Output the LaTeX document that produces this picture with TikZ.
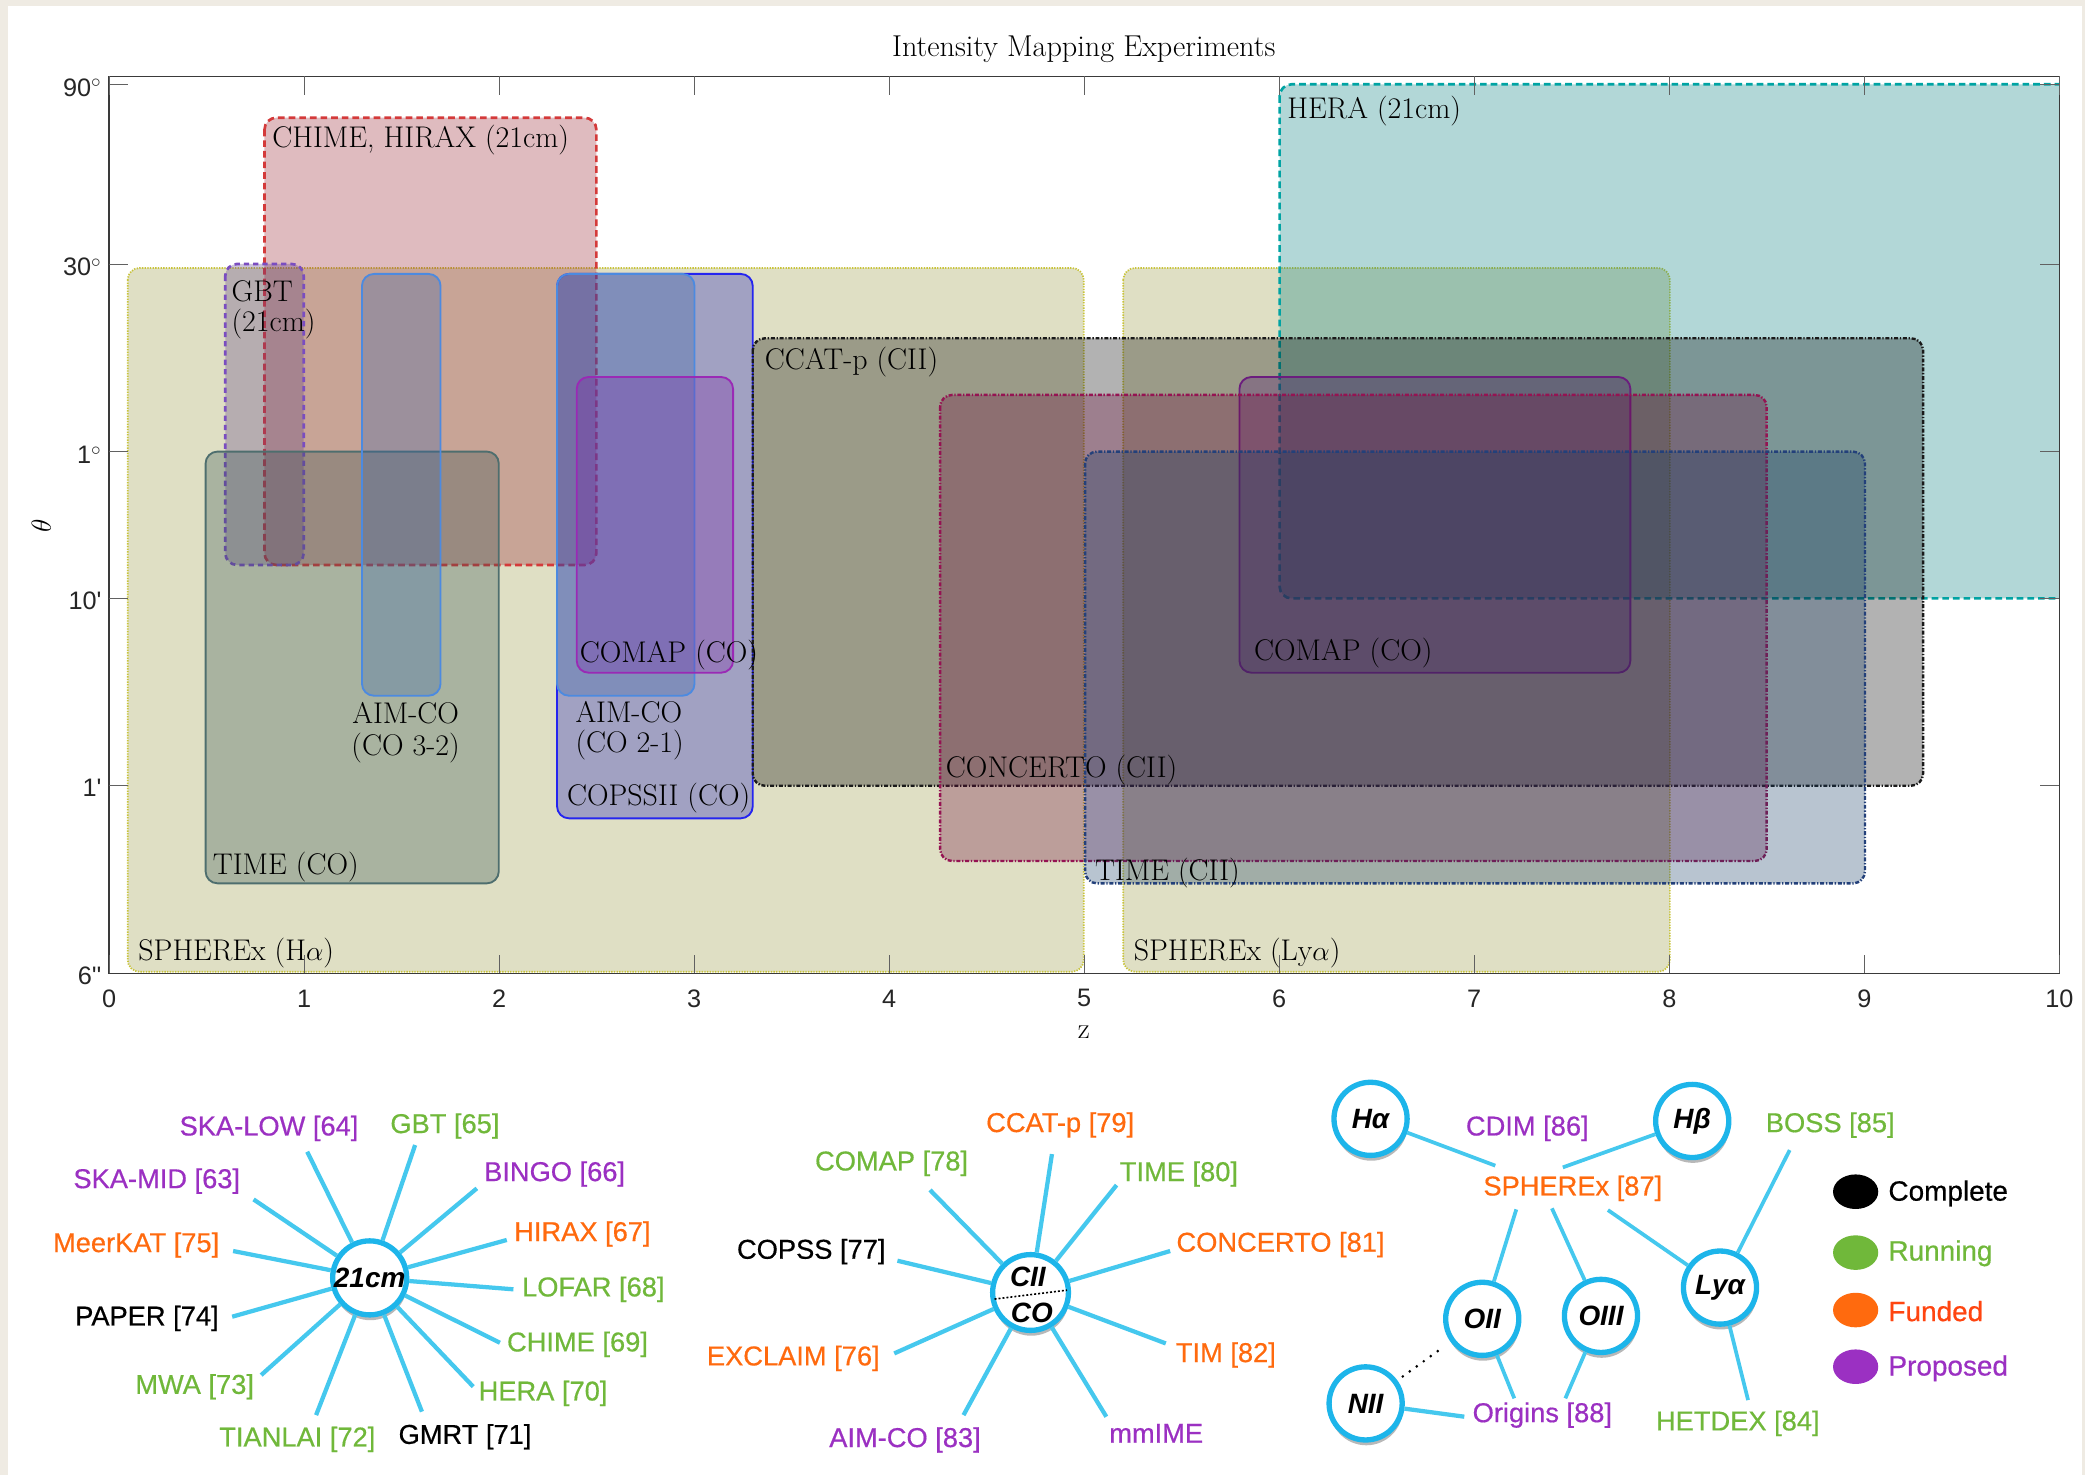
\documentclass[tikz,border=0pt]{standalone}
\usepackage{fontspec}
\newfontfamily\lsans{Liberation Sans}
\newfontfamily\lsansm{Liberation Sans}[FakeBold=0.5]
\usetikzlibrary{shadows,shapes.geometric}

\definecolor{cream}{HTML}{EFEBE3}
\definecolor{spokec}{HTML}{45C8EE}
\definecolor{ringc}{HTML}{1DB5EA}
\definecolor{cpurple}{HTML}{9B30C2}
\definecolor{cgreen}{HTML}{70B83A}
\definecolor{corange}{HTML}{FF6A0E}
\definecolor{cfunded}{HTML}{FF4510}
\definecolor{axisc}{HTML}{3A3A3A}
\definecolor{tickc}{HTML}{262626}
% plot fills
\definecolor{fsph}{RGB}{150,150,60}
\definecolor{fhera}{RGB}{0,125,125}
\definecolor{fchime}{RGB}{150,30,45}
\definecolor{fgbt}{RGB}{90,60,130}
\definecolor{ftime}{RGB}{47,79,79}
\definecolor{faim}{RGB}{55,100,170}
\definecolor{fcopss}{RGB}{20,20,190}
\definecolor{fcomap}{RGB}{125,40,170}
\definecolor{fccat}{RGB}{0,0,0}
\definecolor{fconc}{RGB}{110,10,60}
\definecolor{ftcii}{RGB}{20,60,100}
% plot edges
\definecolor{esph}{HTML}{C9C43A}
\definecolor{ehera}{HTML}{00A3A3}
\definecolor{echime}{HTML}{D43A3A}
\definecolor{egbt}{HTML}{7A4DC0}
\definecolor{etime}{HTML}{4E6E6E}
\definecolor{eaim}{HTML}{4C8AE0}
\definecolor{ecopss}{HTML}{2525F0}
\definecolor{ecomap}{HTML}{9A2AB5}
\definecolor{eccat}{HTML}{1A1A1A}
\definecolor{econc}{HTML}{951352}
\definecolor{etcii}{HTML}{23407A}

\newcommand\plotfont{\fontsize{22.5}{24}\selectfont}
\newcommand\tickfont{\lsans\fontsize{19}{20}\selectfont}
\newcommand\labfont{\lsansm\fontsize{20.5}{22}\selectfont}
\newcommand\hubfont{\lsans\bfseries\itshape\fontsize{21}{22}\selectfont}
\newcommand\legfont{\lsansm\fontsize{21}{22}\selectfont}

\tikzset{
  pbox/.style={rounded corners=9pt, fill opacity=0.3, draw opacity=1},
  dotline/.style={line width=1.3pt, dash pattern=on 1pt off 1pt},
  dashline/.style={line width=2pt, dash pattern=on 5pt off 3pt},
  dotdashline/.style={line width=1.8pt, dash pattern=on 3pt off 1.3pt on 1pt off 1.3pt},
  solidline/.style={line width=1.4pt},
  plab/.style={font=\plotfont, inner sep=0pt, anchor=west, text=black},
  plabc/.style={font=\plotfont, inner sep=0pt, text=black},
  axisline/.style={draw=axisc, line width=1pt},
  tickmark/.style={draw=axisc!80, line width=0.8pt},
  ticklab/.style={font=\tickfont, text=tickc, inner sep=0pt},
  hub/.style={circle, draw=ringc, line width=4pt, fill=white, minimum size=55pt,
    inner sep=0pt, font=\hubfont,
    drop shadow={shadow xshift=0.5pt, shadow yshift=-4pt, opacity=0.28, fill=black}},
  spoke/.style={draw=spokec, line width=3.2pt},
  link/.style={draw=spokec, line width=2.8pt},
  lab/.style={font=\labfont, inner sep=0pt},
  legdot/.style={ellipse, minimum width=34pt, minimum height=26pt, inner sep=0pt},
  legtxt/.style={font=\legfont, inner sep=0pt, anchor=west},
}

\begin{document}
\begin{tikzpicture}[x=1pt,y=-1pt]
\useasboundingbox (0,0) rectangle (1568,1109);
\fill[cream] (0,0) rectangle (1568,1109);
\fill[white] (6.3,4.5) rectangle (1565.5,1109);

% ---------------- plot boxes ----------------
\begin{scope}
\clip (82,57.5) rectangle (1548.7,732);
\draw[pbox, fill=fsph, draw=esph, dotline] (96,201.5) rectangle (815,730.8);
\draw[pbox, fill=fsph, draw=esph, dotline] (844.7,201.5) rectangle (1255.8,730.8);
\draw[pbox, fill=fhera, draw=ehera, dashline] (962.3,63.4) rectangle (1620,450);
\draw[pbox, fill=fchime, draw=echime, dashline] (198.9,88.5) rectangle (448.5,424.9);
\draw[pbox, fill=fgbt, draw=egbt, dashline, dash pattern=on 4pt off 3pt] (169.4,198.5) rectangle (228.4,424.9);
\draw[pbox, fill=ftime, draw=etime, solidline] (154.6,339.6) rectangle (375.1,664.3);
\draw[pbox, fill=faim, draw=eaim, solidline] (272.2,206) rectangle (331.3,523.2);
\draw[pbox, fill=fcopss, draw=ecopss, solidline] (418.9,206) rectangle (566.1,615.4);
\draw[pbox, fill=faim, draw=eaim, solidline] (418.9,206) rectangle (522.3,523.2);
\draw[pbox, fill=fcomap, draw=ecomap, solidline] (433.7,283.5) rectangle (551.3,505.9);
\draw[pbox, fill=fcomap, draw=ecomap, solidline] (932.1,283.5) rectangle (1226.1,505.9);
\draw[pbox, fill=fccat, draw=eccat, dotdashline] (566.1,254.4) rectangle (1446.2,590.9);
\draw[pbox, fill=fconc, draw=econc, dotdashline] (707,297) rectangle (1328.6,647.5);
\draw[pbox, fill=ftcii, draw=etcii, dotdashline] (816,339.6) rectangle (1402.5,664.3);
\end{scope}

% ---------------- plot labels ----------------
\node[plab] (lchime) at (204.7,105) {CHIME, HIRAX (21cm)};
\node[plab] (lgbt1) at (174,218.7) {GBT};
\node[plab] (lgbt2) at (174,244) {(21cm)};
\node[plab] (lhera) at (968,83.5) {HERA (21cm)};
\node[plab] (lccat) at (575,272) {CCAT-p (CII)};
\node[plab] (lcomap1) at (435.8,492.6) {COMAP (CO)};
\node[plab] (lcomap2) at (943,491.3) {COMAP (CO)};
\node[plabc] (laim1a) at (305,536.5) {AIM-CO};
\node[plabc] (laim1b) at (305,562.8) {(CO 3-2)};
\node[plab] (laim2a) at (432.6,535.2) {AIM-CO};
\node[plab] (laim2b) at (432.6,560.3) {(CO 2-1)};
\node[plab] (lcopss) at (426.3,600.4) {COPSSII (CO)};
\node[plab] (lconc) at (711.2,579.1) {CONCERTO (CII)};
\node[plab] (ltimeco) at (159.9,651.8) {TIME (CO)};
\node[plab] (ltimecii) at (823.3,656.8) {TIME (CII)};
\node[plab] (lsph1) at (103.9,717) {SPHEREx (H$\alpha$)};
\node[plab] (lsph2) at (852.5,717) {SPHEREx (Ly$\alpha$)};

% ---------------- axes ----------------
\draw[axisline] (82,57.5) rectangle (1548.7,732);
\foreach \i in {0,...,10} {
  \draw[tickmark] (82+146.67*\i,732) -- ++(0,-14);
  \draw[tickmark] (82+146.67*\i,57.5) -- ++(0,14);
  \node[ticklab] (xl\i) at (82+146.67*\i,750.8) {\i};
}
\foreach \yy in {63.2,198.6,339.6,450,590.9} {
  \draw[tickmark] (82,\yy) -- ++(14.5,0);
  \draw[tickmark] (1548.7,\yy) -- ++(-14.5,0);
}
\node[ticklab, anchor=east] (yl1) at (76.5,65.7) {90$^{\circ}$};
\node[ticklab, anchor=east] (yl2) at (76.5,201) {30$^{\circ}$};
\node[ticklab, anchor=east] (yl3) at (76.5,342) {1$^{\circ}$};
\node[ticklab, anchor=east] (yl4) at (76.5,451.5) {10\textquotesingle};
\node[ticklab, anchor=east] (yl5) at (76.5,592.5) {1\textquotesingle};
\node[ticklab, anchor=east] (yl6) at (76.5,733.5) {6\textquotesingle\textquotesingle};

\node[font=\fontsize{22.7}{24}\selectfont, inner sep=0pt] (title) at (815,37.4) {Intensity Mapping Experiments};
\node[font=\fontsize{22}{24}\selectfont, inner sep=0pt] (zlab) at (815,776) {z};
\node[font=\fontsize{21}{24}\selectfont, inner sep=0pt, rotate=90] (thlab) at (31,395.5) {$\theta$};

% ---------------- 21cm star ----------------
\node[hub] (h21) at (278,961) {21cm};
\coordinate (a1) at (231,866.1);
\coordinate (a2) at (312.2,861.1);
\coordinate (a3) at (358.6,893.7);
\coordinate (a4) at (381.1,932.5);
\coordinate (a5) at (386.1,969.6);
\coordinate (a6) at (376,1009.8);
\coordinate (a7) at (355.9,1042.8);
\coordinate (a8) at (317.3,1061.6);
\coordinate (a9) at (237.7,1064.2);
\coordinate (a10) at (196.4,1034.1);
\coordinate (a11) at (174.6,990.2);
\coordinate (a12) at (175.3,940.8);
\coordinate (a13) at (190.7,902);
\foreach \k in {1,...,13} { \draw[spoke] (h21) -- (a\k); }
\node[lab, text=cpurple] (t1) at (202.3,848.6) {SKA-LOW [64]};
\node[lab, text=cgreen] (t2) at (334.6,846.8) {GBT [65]};
\node[lab, text=cpurple] (t3) at (417.1,882.9) {BINGO [66]};
\node[lab, text=corange] (t4) at (438,928) {HIRAX [67]};
\node[lab, text=cgreen] (t5) at (446.2,969.6) {LOFAR [68]};
\node[lab, text=cgreen] (t6) at (434.3,1011) {CHIME [69]};
\node[lab, text=cgreen] (t7) at (408.4,1047.9) {HERA [70]};
\node[lab, text=black] (t8) at (349.7,1080.5) {GMRT [71]};
\node[lab, text=cgreen] (t9) at (223.6,1082.5) {TIANLAI [72]};
\node[lab, text=cgreen] (t10) at (146.4,1042.9) {MWA [73]};
\node[lab, text=black] (t11) at (110.5,991.5) {PAPER [74]};
\node[lab, text=corange] (t12) at (102.4,936.3) {MeerKAT [75]};
\node[lab, text=cpurple] (t13) at (117.9,888.2) {SKA-MID [63]};

% ---------------- CII / CO star ----------------
\node[hub, minimum size=57pt] (hcii) at (775,972) {};
\node[font=\hubfont, inner sep=0pt] (tcii) at (773,960) {CII};
\node[font=\hubfont, inner sep=0pt] (tco) at (776,987.5) {CO};
\draw[black, line width=1.2pt, dash pattern=on 1.5pt off 1.5pt, shorten <=3pt, shorten >=3pt] (hcii.190) -- (hcii.4);
\coordinate (b1) at (699.4,894.9);
\coordinate (b2) at (791.1,867.9);
\coordinate (b3) at (839.7,891.2);
\coordinate (b4) at (880,940.8);
\coordinate (b5) at (876.7,1010.3);
\coordinate (b6) at (832,1065.4);
\coordinate (b7) at (724.6,1064.2);
\coordinate (b8) at (672.5,1017.8);
\coordinate (b9) at (674.9,948.1);
\foreach \k in {1,...,9} { \draw[spoke] (hcii) -- (b\k); }
\node[lab, text=cgreen] (u1) at (670.5,874.9) {COMAP [78]};
\node[lab, text=corange] (u2) at (797.3,846) {CCAT-p [79]};
\node[lab, text=cgreen] (u3) at (886.6,882.9) {TIME [80]};
\node[lab, text=corange] (u4) at (963,936) {CONCERTO [81]};
\node[lab, text=corange] (u5) at (921.9,1019) {TIM [82]};
\node[lab, text=cpurple] (u6) at (869.5,1077.9) {mmIME};
\node[lab, text=cpurple] (u7) at (680.6,1082.9) {AIM-CO [83]};
\node[lab, text=corange] (u8) at (596.6,1021.5) {EXCLAIM [76]};
\node[lab, text=black] (u9) at (610.1,941.3) {COPSS [77]};

% ---------------- line network ----------------
\node[hub] (ha) at (1030.7,841.4) {Hα};
\node[hub] (hb) at (1272.6,843) {Hβ};
\node[hub] (lya) at (1293.5,968.3) {Lyα};
\node[hub] (oii) at (1114.7,991.8) {OII};
\node[hub] (oiii) at (1204,989.6) {OIII};
\node[hub] (nii) at (1027,1055.4) {NII};

\node[lab, text=cpurple] (cdim) at (1148.6,848.6) {CDIM [86]};
\node[lab, text=corange] (sphx) at (1182.8,893.7) {SPHEREx [87]};
\node[lab, text=cgreen] (boss) at (1376.4,846.1) {BOSS [85]};
\node[lab, text=cpurple] (orig) at (1159.9,1064.2) {Origins [88]};
\node[lab, text=cgreen] (hetdex) at (1306.9,1070.4) {HETDEX [84]};

\coordinate (c1) at (1124.5,876.6);
\coordinate (c2) at (1175.3,877.9);
\coordinate (c3) at (1140.3,909.5);
\coordinate (c4) at (1167.1,908.7);
\coordinate (c5) at (1209.2,910);
\coordinate (c6) at (1345.9,864.9);
\coordinate (c7) at (1314.6,1052.9);
\coordinate (c8) at (1138.8,1051.6);
\coordinate (c9) at (1177.2,1051.6);
\coordinate (c10) at (1101.2,1065.4);
\draw[link] (ha) -- (c1);
\draw[link] (hb) -- (c2);
\draw[link] (c3) -- (oii);
\draw[link] (c4) -- (oiii);
\draw[link] (c5) -- (lya);
\draw[link] (c6) -- (lya);
\draw[link] (lya) -- (c7);
\draw[link] (oii) -- (c8);
\draw[link] (oiii) -- (c9);
\draw[link, line width=3.2pt] (nii) -- (c10);
\draw[black, line width=2.2pt, line cap=round, dash pattern=on 0pt off 6.5pt, shorten <=5pt, shorten >=7pt] (nii) -- (oii);

% ---------------- legend ----------------
\node[legdot, fill=black] (d1) at (1395.5,896.2) {};
\node[legdot, fill=cgreen] (d2) at (1395.5,942) {};
\node[legdot, fill=corange] (d3) at (1395.5,985.2) {};
\node[legdot, fill=cpurple] (d4) at (1395.5,1027.8) {};
\node[legtxt, text=black] (g1) at (1420,897.5) {Complete};
\node[legtxt, text=cgreen] (g2) at (1420,942.5) {Running};
\node[legtxt, text=cfunded] (g3) at (1420,986) {Funded};
\node[legtxt, text=cpurple] (g4) at (1420,1029) {Proposed};
\end{tikzpicture}
\end{document}
